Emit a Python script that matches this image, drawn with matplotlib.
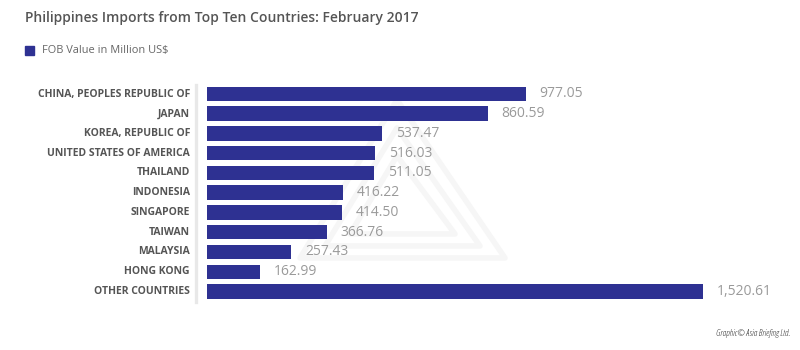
import matplotlib.pyplot as plt
from matplotlib.lines import Line2D
from matplotlib.patches import Polygon

countries = [
    "CHINA, PEOPLES REPUBLIC OF",
    "JAPAN",
    "KOREA, REPUBLIC OF",
    "UNITED STATES OF AMERICA",
    "THAILAND",
    "INDONESIA",
    "SINGAPORE",
    "TAIWAN",
    "MALAYSIA",
    "HONG KONG",
    "OTHER COUNTRIES",
]
fob_values = [977.05, 860.59, 537.47, 516.03, 511.05, 416.22, 414.50,
              366.76, 257.43, 162.99, 1520.61]

bar_color = "#2e3192"
plt.rcParams["font.family"] = ["Open Sans", "DejaVu Sans"]

fig = plt.figure(figsize=(8, 3.5), dpi=100)
ax = fig.add_axes([207 / 800, 0.1389, 593 / 800, 0.621])


def px(x, y):
    # pixel position on the canvas -> data coords of the bar axes
    return ((x - 207) / 0.326, (y - 94) / 19.75)


# faint logo in the background
logo = [
    [(300, 258), (397, 100), (505, 258)],
    [(325, 246), (397, 128), (480, 246)],
    [(350, 234), (397, 156), (455, 234)],
]
for pts in logo:
    ax.add_patch(Polygon([px(*p) for p in pts], closed=True, fill=False,
                         edgecolor="#f6f6f6", linewidth=4,
                         joinstyle="round", zorder=0))

y = list(range(len(countries)))
ax.barh(y, fob_values, height=0.73, color=bar_color, zorder=2)

for yi, v in zip(y, fob_values):
    ax.text(v + 43, yi, f"{v:,.2f}", va="center", ha="left",
            fontsize=10, color="#9a9a9a")

ax.set_xlim(0, 593 / 0.326)
ax.set_ylim(len(countries) - 0.5, -0.5)
ax.axis("off")

for yi, name in zip(y, countries):
    fig.text(190 / 800, 1 - (94 + 19.75 * yi) / 350, name, ha="right",
             va="center", fontsize=7.5, fontweight="bold", color="#555555")

# vertical axis line
fig.add_artist(Line2D([196 / 800, 196 / 800], [1 - 85 / 350, 1 - 302 / 350],
                      color="#e8e8e8", linewidth=2.4))

fig.text(25 / 800, 1 - 18 / 350,
         "Philippines Imports from Top Ten Countries: February 2017",
         ha="left", va="center", fontsize=10, fontweight="semibold",
         color="#555555")

fig.patches.append(plt.Rectangle((25 / 800, 1 - 55 / 350), 9 / 800, 9 / 350,
                                 transform=fig.transFigure, color=bar_color,
                                 figure=fig))
fig.text(42 / 800, 1 - 50.5 / 350, "FOB Value in Million US$", ha="left",
         va="center", fontsize=7.9, color="#666666")

fig.text(790 / 800, 1 - 333 / 350, "Graphic\u00a9 Asia Briefing Ltd.",
         ha="right", va="center", fontsize=6.5, style="italic",
         color="#333333", fontstretch="condensed")

fig.savefig("out.png", dpi=100)
